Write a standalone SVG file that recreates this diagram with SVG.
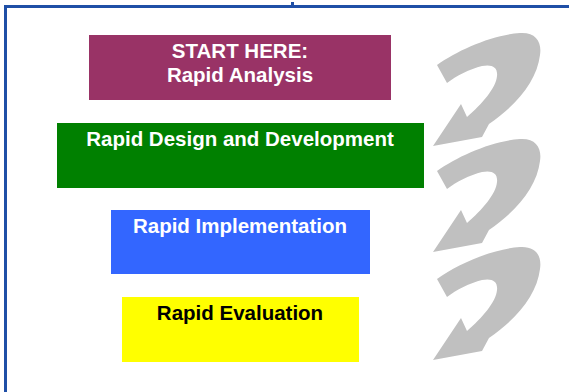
<svg xmlns="http://www.w3.org/2000/svg" xmlns:xlink="http://www.w3.org/1999/xlink" width="569" height="392" viewBox="0 0 569 392">
<style>
.lbl{font-family:"Liberation Sans",Arial,sans-serif;font-weight:bold;font-size:20.5px;text-anchor:middle}
.w{fill:#ffffff}
.k{fill:#000000}
.arr{fill:#c0c0c0}
</style>
<defs>
<path id="curl" class="arr" d="M437,65 C458,50 492,35 520,33 C536,32 542,42 540,55 C537,80 518,104 489,124 L482,137 L433,146 L461,104 L467,117 C482,104 496,88 497,76 C498,67 492,64 482,66 C470,69 456,76 447,83 Z"/>
</defs>
<rect width="569" height="392" fill="#ffffff"/>
<path d="M5.5,392 V6.5 H569" fill="none" stroke="#1f4fa6" stroke-width="3"/>
<rect x="291" y="2" width="3" height="3" fill="#1f4fa6"/>
<g id="arrows">
<use xlink:href="#curl"/>
<use xlink:href="#curl" transform="translate(0,106)"/>
<use xlink:href="#curl" transform="translate(0,214)"/>
</g>
<g id="analysis">
<rect x="89" y="35" width="302" height="65" fill="#993366"/>
<text class="lbl w" x="240" y="58">START HERE:</text>
<text class="lbl w" x="240" y="82">Rapid Analysis</text>
</g>
<g id="design">
<rect x="57" y="123" width="367" height="65" fill="#008000"/>
<text class="lbl w" x="240" y="146">Rapid Design and Development</text>
</g>
<g id="implementation">
<rect x="111" y="210" width="259" height="64" fill="#3366ff"/>
<text class="lbl w" x="240" y="233">Rapid Implementation</text>
</g>
<g id="evaluation">
<rect x="122" y="297" width="237" height="65" fill="#ffff00"/>
<text class="lbl k" x="240" y="320">Rapid Evaluation</text>
</g>
</svg>
